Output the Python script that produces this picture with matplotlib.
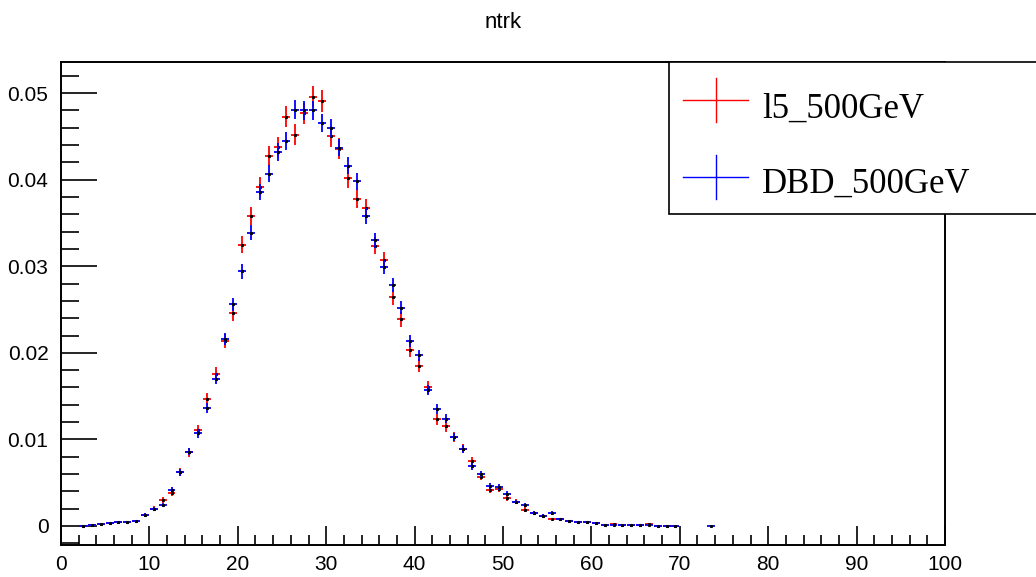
# %% Imports:
import numpy as np
import matplotlib
matplotlib.use("Agg")
import matplotlib.pyplot as plt
import matplotlib.patches as patches
from matplotlib.lines import Line2D
from matplotlib.ticker import MultipleLocator, FixedFormatter, FixedLocator

# %% Data (normalised ntrk histograms, bin width 1)
bins_red = list(range(2, 70))
vals_red = [0.00005, 0.0001, 0.0002, 0.0003, 0.0004, 0.0005, 0.0006, 0.0013,
            0.0020, 0.0030, 0.0038, 0.0062, 0.0085, 0.0111, 0.0147, 0.0176,
            0.0214, 0.0246, 0.0325, 0.0358, 0.0392, 0.0427, 0.0438, 0.0473,
            0.0452, 0.0477, 0.0496, 0.0491, 0.0450, 0.0436, 0.0402, 0.0378,
            0.0367, 0.0324, 0.0307, 0.0264, 0.0239, 0.0203, 0.0185, 0.0160,
            0.0123, 0.0115, 0.0103, 0.0089, 0.0075, 0.0057, 0.0042, 0.0043,
            0.0032, 0.0028, 0.0019, 0.0015, 0.0012, 0.0008, 0.0008, 0.0006,
            0.0005, 0.0004, 0.0003, 0.0001, 0.0002, 0.0001, 0.0001, 0.0001,
            0.0002, 0.00005, 0.00004, 0.00003]

bins_blue = list(range(2, 70)) + [73]
vals_blue = [0.00005, 0.0001, 0.0002, 0.0003, 0.0004, 0.0005, 0.0006, 0.0013,
             0.0020, 0.0024, 0.0042, 0.0062, 0.0086, 0.0107, 0.0136, 0.0170,
             0.0216, 0.0256, 0.0294, 0.0339, 0.0386, 0.0407, 0.0432, 0.0445,
             0.0481, 0.0480, 0.0480, 0.0466, 0.0460, 0.0437, 0.0416, 0.0398,
             0.0358, 0.0330, 0.0299, 0.0278, 0.0252, 0.0214, 0.0197, 0.0157,
             0.0135, 0.0124, 0.0103, 0.0089, 0.0069, 0.0060, 0.0046, 0.0045,
             0.0037, 0.0028, 0.0024, 0.0015, 0.0012, 0.0015, 0.0008, 0.0006,
             0.0005, 0.0004, 0.0003, 0.0001, 0.0001, 0.0001, 0.0001, 0.0001,
             0.0001, 0.00005, 0.00004, 0.00003, 0.00003]

# entries used for the statistical error bars
n_entries_red = 32000
n_entries_blue = 43000

labels = ["l5_500GeV", "DBD_500GeV"]
x_tick_values = list(range(0, 101, 10))
x_tick_labels = [str(v) for v in x_tick_values]
y_tick_values = [0, 0.01, 0.02, 0.03, 0.04, 0.05]
y_tick_labels = ["0", "0.01", "0.02", "0.03", "0.04", "0.05"]

# %% PLOT
plt.rcParams['font.family'] = ['Liberation Sans', 'DejaVu Sans']

fig = plt.figure(figsize=(10.36, 5.77), dpi=100)
ax = fig.add_axes([61 / 1036, 1 - 545 / 577, 884 / 1036, 483 / 577])

series = [
    (bins_red, vals_red, n_entries_red, "#ff0000"),
    (bins_blue, vals_blue, n_entries_blue, "#0000ff"),
]
for b, v, n, col in series:
    x = np.array(b) + 0.5
    y = np.array(v)
    yerr = np.sqrt(y / n)
    ax.errorbar(x, y, yerr=yerr, xerr=0.45, fmt='none', ecolor=col,
                elinewidth=1.3, capsize=0)
    ax.plot(x, y, linestyle='', marker='s', markersize=1.2, color='k')

ax.set_xlim(0, 100)
ax.set_ylim(-0.0022, 0.0536)

ax.xaxis.set_major_locator(FixedLocator(x_tick_values))
ax.xaxis.set_major_formatter(FixedFormatter(x_tick_labels))
ax.xaxis.set_minor_locator(MultipleLocator(2))
ax.yaxis.set_major_locator(FixedLocator(y_tick_values))
ax.yaxis.set_major_formatter(FixedFormatter(y_tick_labels))
ax.yaxis.set_minor_locator(MultipleLocator(0.002))
ax.tick_params(axis='both', labelsize=15)

ax.tick_params(axis='x', which='major', direction='in', length=14, width=1.2, pad=7)
ax.tick_params(axis='x', which='minor', direction='in', length=7, width=1.2)
ax.tick_params(axis='y', which='major', direction='in', length=26, width=1.2, pad=9)
ax.tick_params(axis='y', which='minor', direction='in', length=13, width=1.2)
for s in ax.spines.values():
    s.set_linewidth(1.4)

fig.text(503 / 1036, 1 - 22 / 577, "ntrk", ha='center', va='center', fontsize=16)

# Legend box (ROOT TLegend, cut at the right edge)
leg = patches.Rectangle((669 / 1036, 1 - 214 / 577), 400 / 1036, 152 / 577,
                        transform=fig.transFigure, facecolor='white',
                        edgecolor='k', linewidth=1.2, zorder=5)
fig.add_artist(leg)
for i, (lab, col) in enumerate(zip(labels, ["#ff0000", "#0000ff"])):
    yc = 1 - (100 + i * 77) / 577
    fig.add_artist(Line2D([683 / 1036, 748 / 1036], [yc, yc], color=col,
                          linewidth=1.0, transform=fig.transFigure, zorder=6))
    fig.add_artist(Line2D([716 / 1036, 716 / 1036], [yc - 22 / 577, yc + 22 / 577],
                          color=col, linewidth=1.0, transform=fig.transFigure, zorder=6))
    fig.text(762 / 1036, 1 - (118 + i * 75) / 577, lab, ha='left', va='baseline',
             fontsize=25, family=['Liberation Serif', 'DejaVu Serif'], zorder=7)

fig.savefig("out.png", dpi=100)
